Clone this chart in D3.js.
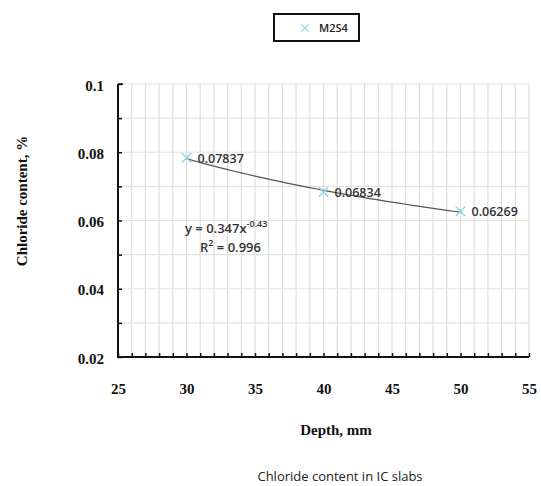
<!DOCTYPE html>
<html>
<head>
<meta charset="utf-8">
<script src="https://cdn.jsdelivr.net/npm/d3@7"></script>
<style>
  body { margin: 0; background: #fff; }
  svg { display: block; }
</style>
</head>
<body>
<svg width="541" height="486"></svg>
<script>
"use strict"

const depths = [30, 40, 50]
const chloride = [0.07837, 0.06834, 0.06269]
const pointLabels = ["0.07837", "0.06834", "0.06269"]
const xTicks = [25, 30, 35, 40, 45, 50, 55]
const yTicks = [0.02, 0.04, 0.06, 0.08, 0.1]
const seriesName = "M2S4"

const svg = d3.select("svg")

const x = d3.scaleLinear().domain([25, 55]).range([118, 529])
const y = d3.scaleLinear().domain([0.02, 0.1]).range([357, 84])

// grid lines
const vGrid = d3.range(26, 56, 1)
svg.append("g")
    .selectAll("line")
    .data(vGrid)
    .join("line")
    .attr("x1", (d) => x(d))
    .attr("x2", (d) => x(d))
    .attr("y1", y(0.1))
    .attr("y2", y(0.02))
    .attr("stroke", "#dedede")
    .attr("stroke-width", 1.2)

const hGrid = d3.range(0.03, 0.1001, 0.01)
svg.append("g")
    .selectAll("line")
    .data(hGrid)
    .join("line")
    .attr("x1", x(25))
    .attr("x2", x(55))
    .attr("y1", (d) => y(d))
    .attr("y2", (d) => y(d))
    .attr("stroke", "#e2e2e2")
    .attr("stroke-width", 1.2)

// axes with inward ticks
const tickFont = (sel) =>
    sel.selectAll("text")
        .attr("font-family", "Liberation Serif, Times New Roman, serif")
        .attr("font-weight", "bold")
        .attr("font-size", "15px")
        .attr("fill", "#111")

const xAxis = svg.append("g")
    .attr("transform", `translate(0,${y(0.02)})`)
    .call(d3.axisBottom(x).tickValues(d3.range(25, 56, 1)).tickSize(-4).tickPadding(0).tickFormat(""))
xAxis.select(".domain").remove()
xAxis.selectAll("line").attr("stroke", "#111").attr("stroke-width", 1.5)

const xLabels = svg.append("g")
    .attr("transform", `translate(0,${y(0.02)})`)
    .call(d3.axisBottom(x).tickValues(xTicks).tickSize(0).tickPadding(26))
xLabels.select(".domain").remove()
tickFont(xLabels)

const yAxis = svg.append("g")
    .attr("transform", `translate(${x(25)},0)`)
    .call(d3.axisLeft(y).tickValues(d3.range(0.02, 0.1001, 0.01)).tickSize(-4).tickFormat(""))
yAxis.select(".domain").remove()
yAxis.selectAll("line").attr("stroke", "#111").attr("stroke-width", 1.5)

const yLabels = svg.append("g")
    .attr("transform", `translate(${x(25)},0)`)
    .call(d3.axisLeft(y).tickValues(yTicks).tickSize(0).tickPadding(14).tickFormat(d3.format("")))
yLabels.select(".domain").remove()
tickFont(yLabels)
yLabels.selectAll("text").attr("dy", "0.4em")

// axis lines
svg.append("path")
    .attr("d", `M${x(25)},${y(0.1)} V${y(0.02)} H${x(55)}`)
    .attr("fill", "none")
    .attr("stroke", "#111")
    .attr("stroke-width", 2)
svg.append("line")
    .attr("x1", x(25)).attr("x2", x(25) + 5)
    .attr("y1", y(0.1)).attr("y2", y(0.1))
    .attr("stroke", "#111").attr("stroke-width", 1.5)

// power trendline fitted in log-log space
const lx = depths.map(Math.log)
const ly = chloride.map(Math.log)
const mx = d3.mean(lx)
const my = d3.mean(ly)
const b = d3.sum(lx, (v, i) => (v - mx) * (ly[i] - my)) / d3.sum(lx, (v) => (v - mx) * (v - mx))
const a = Math.exp(my - b * mx)
const fitX = d3.range(30, 50.01, 0.5)
const line = d3.line()
    .x((d) => x(d))
    .y((d) => y(a * Math.pow(d, b)))
svg.append("path")
    .datum(fitX)
    .attr("d", line)
    .attr("fill", "none")
    .attr("stroke", "#555")
    .attr("stroke-width", 1.2)

// markers
const cross = d3.symbol().type(d3.symbolX).size(60)
svg.append("g")
    .selectAll("path")
    .data(depths)
    .join("path")
    .attr("d", cross)
    .attr("transform", (d, i) => `translate(${x(d)},${y(chloride[i])})`)
    .attr("fill", "none")
    .attr("stroke", "#8fd6ea")
    .attr("stroke-width", 1.5)

const labelFont = "Open Sans, Liberation Sans, Arial, sans-serif"

svg.append("g")
    .selectAll("text")
    .data(depths)
    .join("text")
    .attr("x", (d) => x(d) + 11)
    .attr("y", (d, i) => y(chloride[i]) + 5)
    .attr("font-family", labelFont)
    .attr("font-size", "12.5px")
    .attr("font-weight", "600")
    .attr("fill", "#333")
    .text((d, i) => pointLabels[i])

// equation
const eq = svg.append("text")
    .attr("x", 185)
    .attr("y", 233)
    .attr("font-family", labelFont)
    .attr("font-size", "13px")
    .attr("font-weight", "600")
    .attr("fill", "#333")
eq.append("tspan").text("y = 0.347x")
eq.append("tspan").attr("dy", -6).attr("font-size", "9px").text("-0.43")

const r2 = svg.append("text")
    .attr("x", 200)
    .attr("y", 252)
    .attr("font-family", labelFont)
    .attr("font-size", "13px")
    .attr("font-weight", "600")
    .attr("fill", "#333")
r2.append("tspan").text("R")
r2.append("tspan").attr("dy", -6).attr("font-size", "9px").text("2")
r2.append("tspan").attr("dy", 6).text(" = 0.996")

// legend
svg.append("rect")
    .attr("x", 274)
    .attr("y", 14)
    .attr("width", 85)
    .attr("height", 27)
    .attr("fill", "#fff")
    .attr("stroke", "#111")
    .attr("stroke-width", 2)
svg.append("path")
    .attr("d", d3.symbol().type(d3.symbolX).size(36))
    .attr("transform", "translate(305,28)")
    .attr("fill", "none")
    .attr("stroke", "#8fd6ea")
    .attr("stroke-width", 1.3)
svg.append("text")
    .attr("x", 319)
    .attr("y", 32)
    .attr("font-family", labelFont)
    .attr("font-size", "11px")
    .attr("font-weight", "600")
    .attr("fill", "#222")
    .text(seriesName)

// titles
svg.append("text")
    .attr("transform", "translate(27,201) rotate(-90)")
    .attr("text-anchor", "middle")
    .attr("font-family", "Liberation Serif, Times New Roman, serif")
    .attr("font-weight", "bold")
    .attr("font-size", "15px")
    .attr("fill", "#111")
    .text("Chloride content, %")

svg.append("text")
    .attr("x", 336)
    .attr("y", 435)
    .attr("text-anchor", "middle")
    .attr("font-family", "Liberation Serif, Times New Roman, serif")
    .attr("font-weight", "bold")
    .attr("font-size", "15px")
    .attr("fill", "#111")
    .text("Depth, mm")

svg.append("text")
    .attr("x", 340)
    .attr("y", 481)
    .attr("text-anchor", "middle")
    .attr("font-family", labelFont)
    .attr("font-size", "13px")
    .attr("fill", "#222")
    .text("Chloride content in IC slabs")
</script>
</body>
</html>
